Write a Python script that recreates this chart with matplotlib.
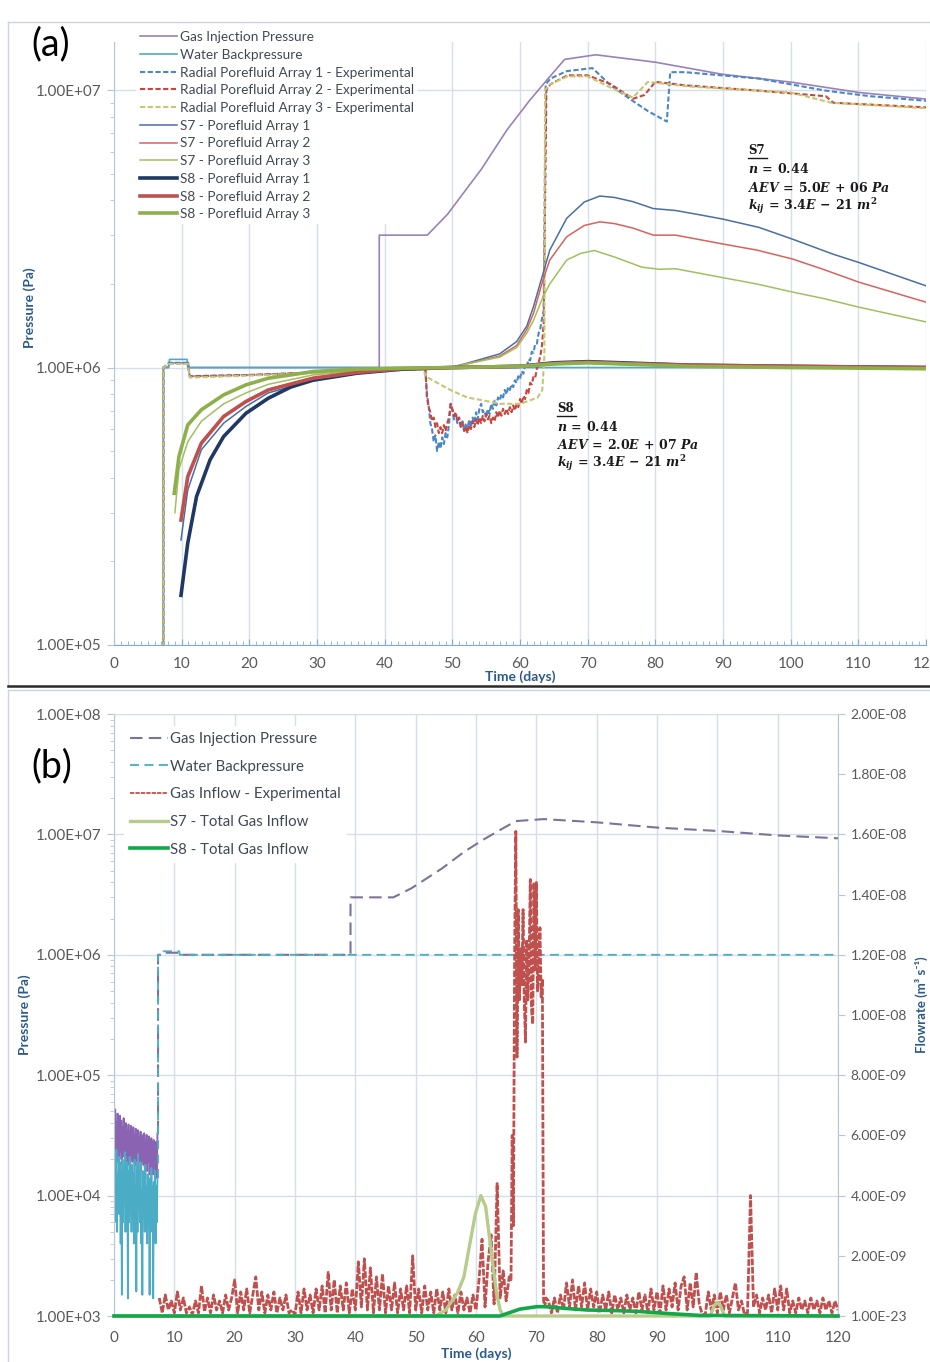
import numpy as np
import matplotlib
matplotlib.use('Agg')
import matplotlib.pyplot as plt
from matplotlib.lines import Line2D
from matplotlib.ticker import LogLocator, NullFormatter, MultipleLocator, FixedLocator

plt.rcParams['font.family'] = ['Lato', 'DejaVu Sans']
plt.rcParams['mathtext.fontset'] = 'custom'
plt.rcParams['mathtext.rm'] = 'DejaVu Serif:bold'
plt.rcParams['mathtext.it'] = 'DejaVu Serif:italic:bold'
plt.rcParams['mathtext.bf'] = 'DejaVu Serif:bold'
plt.rcParams['axes.unicode_minus'] = False

# ---------------- shared tick data ----------------
day_ticks = [0, 10, 20, 30, 40, 50, 60, 70, 80, 90, 100, 110, 120]
day_labels = ['0', '10', '20', '30', '40', '50', '60', '70', '80', '90', '100', '110', '120']

# ---------------- Panel (a) data ----------------
a_ytick_vals = [1e5, 1e6, 1e7]
a_ytick_labels = ['1.00E+05', '1.00E+06', '1.00E+07']

gip_t = [0, 7.3, 7.3, 8.0, 8.1, 11.0, 11.1, 39.2, 39.2, 46.3, 49.3, 54.3, 58.1, 61.4,
         64.1, 66.6, 71.2, 80.0, 89.9, 100.3, 110.1, 120.0]
gip_p = [5e4, 5e4, 1.0e6, 1.0e6, 1.04e6, 1.04e6, 1.0e6, 1.0e6, 3.0e6, 3.0e6, 3.57e6, 5.19e6,
         7.2e6, 9.16e6, 1.096e7, 1.29e7, 1.34e7, 1.26e7, 1.14e7, 1.066e7, 9.8e6, 9.28e6]

water_t = [0, 7.3, 7.3, 8.1, 8.2, 10.8, 10.9, 120.0]
water_p = [5e4, 5e4, 1.0e6, 1.0e6, 1.07e6, 1.07e6, 1.0e6, 1.0e6]

exp_early_t = [0, 7.3, 7.3, 8.1, 10.9, 11.2, 20, 30, 40, 45.8]
exp1_early_p = [5e4, 5e4, 1.0e6, 1.04e6, 1.04e6, 0.93e6, 0.94e6, 0.96e6, 0.98e6, 0.99e6]
exp2_early_p = [5e4, 5e4, 1.0e6, 1.03e6, 1.03e6, 0.93e6, 0.94e6, 0.96e6, 0.98e6, 0.99e6]
exp3_early_p = [5e4, 5e4, 1.0e6, 1.03e6, 1.03e6, 0.92e6, 0.935e6, 0.955e6, 0.975e6, 0.985e6]

noisy_start, noisy_step = 46.0, 0.25
exp1_noisy_p = [1.00e6, 8.0e5, 7.3e5, 6.3e5, 6.0e5, 5.4e5, 5.7e5, 5.0e5, 5.4e5, 5.1e5,
                5.6e5, 5.3e5, 5.8e5, 5.6e5, 6.2e5, 7.4e5, 7.0e5, 6.5e5, 6.8e5, 6.3e5,
                6.6e5, 6.1e5, 6.4e5, 5.9e5, 6.3e5, 6.0e5, 6.5e5, 6.1e5, 6.6e5, 6.3e5,
                6.9e5, 6.5e5, 7.1e5, 7.4e5, 6.9e5, 7.0e5, 6.6e5, 7.1e5, 6.8e5, 7.4e5,
                7.1e5, 7.6e5, 7.3e5, 7.8e5, 7.6e5, 8.0e5, 7.8e5, 8.3e5, 8.0e5, 8.5e5,
                8.3e5, 8.7e5, 8.5e5, 9.0e5, 8.8e5, 9.3e5, 9.1e5, 9.7e5, 9.5e5, 1.02e6,
                1.0e6, 1.07e6, 1.06e6, 1.14e6, 1.13e6, 1.22e6, 1.22e6, 1.33e6, 1.38e6, 1.5e6]
exp2_noisy_p = [1.0e6, 7.8e5, 7.2e5, 6.9e5, 6.4e5, 6.6e5, 6.1e5, 6.3e5, 5.8e5, 6.1e5,
                5.8e5, 6.2e5, 5.9e5, 6.3e5, 6.6e5, 7.4e5, 7.1e5, 6.7e5, 6.9e5, 6.4e5,
                6.6e5, 6.1e5, 6.3e5, 5.9e5, 6.1e5, 5.8e5, 6.2e5, 6.0e5, 6.4e5, 6.1e5,
                6.5e5, 6.2e5, 6.6e5, 6.3e5, 6.7e5, 6.4e5, 6.8e5, 6.5e5, 6.7e5, 6.3e5,
                6.6e5, 6.4e5, 6.9e5, 6.6e5, 7.0e5, 6.7e5, 7.1e5, 6.8e5, 7.1e5, 6.8e5,
                7.2e5, 6.9e5, 7.3e5, 7.0e5, 7.4e5, 7.2e5, 7.7e5, 7.4e5, 7.9e5, 7.7e5,
                8.3e5, 8.1e5, 8.8e5, 8.7e5, 9.3e5, 9.2e5, 9.9e5, 1.04e6, 1.1e6, 1.2e6]

exp1_late_t = [63.5, 63.8, 64.5, 66.9, 70.7, 73.4, 76.2, 78.9, 81.7, 82.2, 84.4, 95.3, 105.2, 111.8, 120]
exp1_late_p = [1.6e6, 1.05e7, 1.1e7, 1.17e7, 1.2e7, 1.04e7, 9.3e6, 8.4e6, 7.7e6, 1.16e7, 1.16e7,
               1.1e7, 9.95e6, 9.5e6, 9.15e6]
exp2_late_t = [63.5, 63.9, 64.5, 67.0, 70.0, 73.4, 76.7, 78.4, 80.0, 84.4, 95.3, 105.2, 106.3, 120]
exp2_late_p = [1.45e6, 1.0e7, 1.05e7, 1.13e7, 1.13e7, 1.05e7, 9.3e6, 9.6e6, 1.07e7, 1.04e7,
               9.95e6, 9.5e6, 9.0e6, 8.66e6]
exp3_late_t = [46.0, 49.7, 52.2, 54.7, 57.1, 60.1, 62.6, 63.3, 63.6, 63.7, 64.5, 67.0, 70.0,
               73.4, 76.7, 78.9, 85.0, 100.0, 106.0, 120]
exp3_late_p = [9.3e5, 8.3e5, 7.8e5, 7.6e5, 7.4e5, 7.4e5, 7.8e5, 8.3e5, 1.1e6, 1.0e7, 1.05e7,
               1.12e7, 1.12e7, 1.02e7, 9.4e6, 1.07e7, 1.03e7, 9.8e6, 9.0e6, 8.6e6]

s7_1_t = [9.9, 10.9, 12.9, 16.2, 19.5, 22.8, 29.4, 35.9, 42.5, 46, 49.7, 52.1, 57, 59.5, 61,
          62, 63.4, 64.4, 66.9, 69.5, 71.8, 74, 76.7, 79.7, 83, 86.6, 89.9, 95.3, 100.3,
          106.3, 110.1, 120]
s7_1_p = [2.39e5, 3.62e5, 5.05e5, 6.3e5, 7.24e5, 8.1e5, 9.0e5, 9.5e5, 9.85e5, 1.0e6, 1.0e6,
          1.035e6, 1.12e6, 1.24e6, 1.41e6, 1.66e6, 2.18e6, 2.65e6, 3.45e6, 3.95e6, 4.15e6,
          4.1e6, 3.96e6, 3.74e6, 3.68e6, 3.55e6, 3.43e6, 3.2e6, 2.9e6, 2.56e6, 2.39e6, 1.97e6]
s7_2_t = [9.9, 10.9, 12.9, 16.2, 19.5, 22.8, 29.4, 35.9, 42.5, 46, 49.7, 52.1, 57, 59.5, 61,
          62, 63.4, 64.4, 66.9, 69.5, 71.8, 74, 76.7, 79.7, 83, 89.9, 95, 100.3, 105, 110.1, 120]
s7_2_p = [2.9e5, 4.1e5, 5.4e5, 6.7e5, 7.6e5, 8.35e5, 9.2e5, 9.6e5, 9.9e5, 1.0e6, 1.0e6,
          1.03e6, 1.1e6, 1.2e6, 1.37e6, 1.57e6, 2.07e6, 2.44e6, 2.96e6, 3.25e6, 3.35e6, 3.3e6,
          3.18e6, 3.0e6, 3.0e6, 2.79e6, 2.65e6, 2.46e6, 2.25e6, 2.03e6, 1.72e6]
s7_3_t = [9.0, 9.6, 10.9, 12.9, 16.2, 19.5, 22.8, 29.4, 35.9, 42.5, 46, 50, 52.1, 57, 59.5,
          61, 62, 63.4, 64.4, 66.9, 69, 71, 74, 78, 80.6, 83, 89.9, 95, 100.3, 105, 110.1, 120]
s7_3_p = [3.0e5, 4.3e5, 5.4e5, 6.4e5, 7.4e5, 8.1e5, 8.7e5, 9.4e5, 9.7e5, 9.9e5, 1.0e6, 1.0e6,
          1.03e6, 1.09e6, 1.18e6, 1.33e6, 1.48e6, 1.8e6, 2.0e6, 2.44e6, 2.58e6, 2.64e6, 2.5e6,
          2.3e6, 2.26e6, 2.27e6, 2.11e6, 2.0e6, 1.87e6, 1.77e6, 1.65e6, 1.46e6]

s8_1_t = [9.9, 10.9, 12.2, 14.2, 16.2, 19.5, 22.8, 26.1, 29.4, 35.9, 42.5, 50, 60, 65, 70, 75,
          85, 100, 120]
s8_1_p = [1.51e5, 2.33e5, 3.43e5, 4.65e5, 5.64e5, 6.84e5, 7.75e5, 8.5e5, 9.0e5, 9.54e5,
          9.86e5, 1.0e6, 1.01e6, 1.04e6, 1.05e6, 1.04e6, 1.02e6, 1.01e6, 1.0e6]
s8_2_t = [9.9, 10.9, 12.9, 16.2, 19.5, 22.8, 29.4, 35.9, 42.5, 50, 60, 65, 70, 75, 85, 100, 120]
s8_2_p = [2.82e5, 4.04e5, 5.33e5, 6.66e5, 7.54e5, 8.3e5, 9.15e5, 9.6e5, 9.9e5, 1.0e6, 1.01e6,
          1.035e6, 1.045e6, 1.035e6, 1.02e6, 1.01e6, 1.0e6]
s8_3_t = [8.9, 9.6, 10.9, 12.9, 16.2, 19.5, 22.8, 29.4, 35.9, 42.5, 50, 60, 65, 70, 75, 85, 100, 120]
s8_3_p = [3.52e5, 4.78e5, 6.21e5, 7.04e5, 7.97e5, 8.66e5, 9.15e5, 9.67e5, 9.86e5, 9.95e5,
          1.0e6, 1.01e6, 1.03e6, 1.04e6, 1.03e6, 1.01e6, 1.0e6, 0.99e6]

# ---------------- Panel (b) data ----------------
b_ytick_vals = [1e3, 1e4, 1e5, 1e6, 1e7, 1e8]
b_ytick_labels = ['1.00E+03', '1.00E+04', '1.00E+05', '1.00E+06', '1.00E+07', '1.00E+08']
flow_tick_vals = [0.0, 2e-9, 4e-9, 6e-9, 8e-9, 1e-8, 1.2e-8, 1.4e-8, 1.6e-8, 1.8e-8, 2e-8]
flow_tick_labels = ['1.00E-23', '2.00E-09', '4.00E-09', '6.00E-09', '8.00E-09', '1.00E-08',
                    '1.20E-08', '1.40E-08', '1.60E-08', '1.80E-08', '2.00E-08']

early_step = 0.1   # days between early logger samples (day 0 to 7.2)
gip_noise_1e4 = [4.5, 2.2, 5.2, 2.6, 4.1, 1.9, 4.8, 2.4, 3.9, 2.0,
                 4.6, 2.3, 4.2, 1.8, 3.7, 2.5, 4.4, 2.1, 3.6, 1.9,
                 4.0, 2.2, 3.5, 1.8, 3.9, 2.4, 3.4, 1.7, 3.8, 2.0,
                 3.3, 1.9, 3.7, 2.2, 3.2, 1.8, 3.6, 2.0, 3.1, 1.7,
                 3.5, 2.1, 3.0, 1.9, 3.4, 1.6, 3.2, 2.0, 3.0, 1.8,
                 3.3, 1.7, 2.9, 2.0, 3.2, 1.6, 2.8, 1.9, 3.1, 1.5,
                 2.7, 1.8, 3.0, 1.6, 2.8, 1.5, 2.9, 1.7, 2.6, 1.5,
                 2.8, 1.4, 3.3]
water_noise_1e3 = [22, 6, 18, 9, 24, 5, 15, 8, 21, 7,
                   19, 4, 16, 1.5, 20, 6, 17, 9, 23, 5,
                   14, 7, 19, 1.4, 16, 6, 21, 8, 13, 5,
                   18, 7, 15, 4, 20, 6, 12, 1.6, 17, 5,
                   22, 8, 14, 6, 19, 4, 11, 1.5, 16, 7,
                   13, 5, 18, 6, 12, 4, 15, 7, 10, 1.5,
                   14, 5, 17, 6, 12, 1.4, 13, 5, 16, 4,
                   12, 6, 14]

# gas inflow (experimental), units 1e-9 m3/s
flow_seg1_start, flow_seg1_step = 7.5, 0.5
flow_seg1 = [0.6, 0.1, 0.7, 0.2, 0.5, 0.1, 0.8, 0.2, 0.6, 0.1,
             0.3, 0.05, 0.5, 0.1, 1.0, 0.15, 0.6, 0.1, 0.7, 0.2,
             0.5, 0.1, 0.7, 0.2, 0.6, 1.2, 0.1, 0.8, 0.2, 0.9,
             0.1, 0.7, 1.3, 0.2, 0.8, 0.1, 0.7, 0.2, 0.8, 0.1,
             0.6, 0.2, 0.7, 0.1, 0.2, 0.05, 0.8, 0.1, 0.9, 0.2,
             0.7, 0.1, 0.9, 0.2, 1.0, 0.1, 1.45, 0.2, 1.2, 0.1,
             1.0, 0.2, 1.1, 0.1, 0.9, 0.2, 1.8, 0.3, 1.9, 0.2,
             1.6, 0.1, 1.3, 0.2, 1.4, 0.1, 1.0, 0.2, 1.1, 0.1,
             0.9, 0.2, 1.0, 0.1, 2.0, 0.2, 0.9, 0.1, 1.0, 0.2,
             0.8, 0.1, 0.9, 0.2, 0.8, 0.1, 0.9, 0.2, 0.7, 0.1,
             0.8, 0.2, 0.6, 0.1, 0.7, 0.2, 1.2, 2.55, 0.3, 1.8,
             2.7, 0.4, 4.4, 0.6, 1.5, 0.5, 1.3]
flow_seg2_start, flow_seg2_step = 65.8, 0.2
flow_seg2 = [1.2, 6.0, 3.0, 12.0, 16.1, 8.6, 13.5, 10.5, 12.2, 11.0,
             13.5, 10.5, 9.1, 12.5, 10.5, 11.8, 14.5, 10.2, 9.7, 14.4,
             11.5, 14.4, 10.8, 11.6, 12.9, 10.6, 11.2, 0.5, 0.3, 0.6]
flow_seg3_start, flow_seg3_step = 72.0, 0.5
flow_seg3 = [0.5, 0.1, 0.6, 0.1, 0.7, 0.2, 1.1, 0.3, 1.2, 0.2,
             1.0, 0.3, 1.1, 0.2, 0.9, 0.3, 0.8, 0.1, 0.7, 0.2,
             0.8, 0.1, 0.7, 0.2, 0.6, 0.1, 0.7, 0.2, 0.6, 0.1,
             0.8, 0.2, 0.7, 0.1, 0.9, 0.2, 0.8, 0.1, 1.0, 0.2,
             0.9, 0.3, 1.1, 0.2, 1.0, 1.3, 0.2, 1.1, 0.3, 1.45,
             0.4, 0.05, 0.05, 0.8, 0.2, 0.7, 0.1, 0.8, 0.2, 0.7,
             0.1, 0.6, 1.1, 0.2, 0.5, 0.05, 0.1, 4.0, 0.3, 0.7,
             0.1, 0.6, 0.2, 0.7, 0.1, 0.9, 0.2, 1.0, 0.2, 0.9,
             0.1, 0.5, 0.1, 0.6, 0.2, 0.5, 0.1, 0.6, 0.2, 0.5,
             0.1, 0.6, 0.2, 0.5, 0.1, 0.5, 0.2]

s7_flow_t = [0, 53.3, 55.0, 56.9, 58.0, 58.7, 59.9, 60.8, 61.6, 62.5, 63.4, 64.0, 64.5,
             98.8, 99.5, 100.0, 100.5, 101.2, 120]
s7_flow_v = [0, 0, 0.2, 0.76, 1.3, 2.09, 3.4, 4.0, 3.63, 2.19, 0.76, 0.2, 0, 0, 0.35, 0.45,
             0.35, 0, 0]
s8_flow_t = [0, 64.0, 65.1, 67.3, 70.1, 71.5, 75.0, 78.4, 83.0, 87.2, 92.0, 97.0, 120]
s8_flow_v = [0, 0, 0.08, 0.23, 0.31, 0.31, 0.25, 0.2, 0.18, 0.15, 0.08, 0.02, 0.0]

# ---------------- figure ----------------
W, H = 930, 1362
fig = plt.figure(figsize=(W / 100, H / 100), dpi=100)
fig.patch.set_facecolor('white')


def fx(px):
    return px / W


def fy(py):
    return 1 - py / H


GRID = '#d5dfea'
AXC = '#b9c6d3'
TICKC = '#595959'
LABC = '#2c5a8c'
TFS = 11          # tick label size
LFS = 10          # axis label size

# ---------- panel (a) ----------
axA = fig.add_axes([fx(114), fy(645), (926 - 114) / W, (645 - 42) / H])
axA.set_yscale('log')
axA.set_xlim(0, 120)
axA.set_ylim(1e5, 1.49e7)

c_gip = '#9a82b9'
c_wat = '#4bacc6'
hA = []
hA += axA.plot(gip_t, gip_p, color=c_gip, lw=1.2, label='Gas Injection Pressure')
hA += axA.plot(water_t, water_p, color=c_wat, lw=1.2, label='Water Backpressure')

noisy_t = noisy_start + noisy_step * np.arange(len(exp1_noisy_p))
e1_t = np.concatenate([exp_early_t, noisy_t, exp1_late_t])
e1_p = np.concatenate([exp1_early_p, exp1_noisy_p, exp1_late_p])
e2_t = np.concatenate([exp_early_t, noisy_t, exp2_late_t])
e2_p = np.concatenate([exp2_early_p, exp2_noisy_p, exp2_late_p])
e3_t = np.concatenate([exp_early_t, exp3_late_t])
e3_p = np.concatenate([exp3_early_p, exp3_late_p])
hA += axA.plot(e1_t, e1_p, color='#4a86c8', lw=1.5, dashes=(2.5, 1.2),
               label='Radial Porefluid Array 1 - Experimental')
hA += axA.plot(e2_t, e2_p, color='#c9463f', lw=1.5, dashes=(2.5, 1.2),
               label='Radial Porefluid Array 2 - Experimental')
hA += axA.plot(e3_t, e3_p, color='#c6c772', lw=1.5, dashes=(2.5, 1.2),
               label='Radial Porefluid Array 3 - Experimental')
hA += axA.plot(s7_1_t, s7_1_p, color='#4b6ea3', lw=1.1, label='S7 - Porefluid Array 1')
hA += axA.plot(s7_2_t, s7_2_p, color='#d9625c', lw=1.1, label='S7 - Porefluid Array 2')
hA += axA.plot(s7_3_t, s7_3_p, color='#a0c060', lw=1.1, label='S7 - Porefluid Array 3')
hA += axA.plot(s8_1_t, s8_1_p, color='#1f3864', lw=2.6, label='S8 - Porefluid Array 1')
hA += axA.plot(s8_2_t, s8_2_p, color='#c0504d', lw=2.6, label='S8 - Porefluid Array 2')
hA += axA.plot(s8_3_t, s8_3_p, color='#8db04a', lw=2.6, label='S8 - Porefluid Array 3')

axA.yaxis.set_major_locator(FixedLocator(a_ytick_vals))
axA.set_yticklabels(a_ytick_labels)
axA.yaxis.set_minor_locator(LogLocator(base=10, subs=np.arange(2, 10)))
axA.yaxis.set_minor_formatter(NullFormatter())
axA.set_xticks(day_ticks)
axA.set_xticklabels(day_labels)
axA.xaxis.set_minor_locator(MultipleLocator(1))
axA.grid(True, axis='x', which='major', color=GRID, lw=1.0)
axA.grid(True, axis='y', which='major', color=GRID, lw=1.0)
axA.set_axisbelow(True)
for s in ['top', 'right']:
    axA.spines[s].set_visible(False)
axA.spines['left'].set_color(AXC)
axA.spines['bottom'].set_color('#86a9d2')
axA.tick_params(axis='y', which='major', direction='out', length=5, color=AXC,
                labelsize=TFS, labelcolor=TICKC, pad=4)
axA.tick_params(axis='y', which='minor', direction='out', length=3, color=AXC)
axA.tick_params(axis='x', which='major', direction='in', length=4, color='#86a9d2',
                labelsize=TFS, labelcolor=TICKC, pad=9)
axA.tick_params(axis='x', which='minor', direction='in', length=3, color='#86a9d2')

legA = axA.legend(handles=hA, loc='upper left', bbox_to_anchor=(fx(136), fy(27)),
                  bbox_transform=fig.transFigure, fontsize=9.8, frameon=True,
                  facecolor='white', edgecolor='none', framealpha=1, handlelength=2.7,
                  handletextpad=0.25, labelspacing=0.42, borderpad=0.3, borderaxespad=0)
for t in legA.get_texts():
    t.set_color('#404a55')

fig.text(fx(30), fy(308), 'Pressure (Pa)', rotation=90, ha='center', va='center',
         fontsize=LFS, fontweight='bold', color=LABC)
fig.text(fx(520), fy(677), 'Time (days)', ha='center', va='center',
         fontsize=LFS, fontweight='bold', color=LABC)
fig.text(fx(31), fy(44), '(a)', ha='left', va='center', fontsize=27, color='black')

# annotations
txtc = '#1a1a1a'
fig.text(fx(748), fy(150), 'S7', fontfamily='DejaVu Serif', fontweight='bold',
         fontsize=8.5, color=txtc, va='center', ha='left')
fig.add_artist(Line2D([fx(748), fx(767)], [fy(158), fy(158)], color=txtc, lw=1.0))
fig.text(fx(748), fy(168), r'$n\,=\,0.44$', fontsize=9, color=txtc, va='center')
fig.text(fx(748), fy(187), r'$AEV\,=\,5.0E\,+\,06\ Pa$', fontsize=9, color=txtc, va='center')
fig.text(fx(748), fy(206), r'$k_{ij}\,=\,3.4E\,-\,21\ m^{2}$', fontsize=9, color=txtc, va='center')

fig.text(fx(557), fy(408), 'S8', fontfamily='DejaVu Serif', fontweight='bold',
         fontsize=8.5, color=txtc, va='center', ha='left')
fig.add_artist(Line2D([fx(557), fx(576)], [fy(416), fy(416)], color=txtc, lw=1.0))
fig.text(fx(557), fy(426), r'$n\,=\,0.44$', fontsize=9, color=txtc, va='center')
fig.text(fx(557), fy(444), r'$AEV\,=\,2.0E\,+\,07\ Pa$', fontsize=9, color=txtc, va='center')
fig.text(fx(557), fy(463), r'$k_{ij}\,=\,3.4E\,-\,21\ m^{2}$', fontsize=9, color=txtc, va='center')

# ---------- panel (b) ----------
axB = fig.add_axes([fx(114), fy(1316), (838 - 114) / W, (1316 - 714) / H])
axB.set_yscale('log')
axB.set_xlim(0, 120)
axB.set_ylim(1e3, 1e8)

early_t = early_step * np.arange(len(gip_noise_1e4))
gip_noise = np.array(gip_noise_1e4) * 1e4
water_noise = np.array(water_noise_1e3) * 1e3

c_gipb = '#7d7396'
axB.plot(early_t, gip_noise, color='#8a63b3', lw=1.3)
hB = []
hB += axB.plot([7.3] + gip_t[2:], [gip_noise[-1]] + gip_p[2:], color=c_gipb, lw=1.5,
               dashes=(6, 3), label='Gas Injection Pressure')
axB.plot(early_t, water_noise, color='#4bacc6', lw=1.3)
hB += axB.plot([7.3] + water_t[2:], [water_noise[-1]] + water_p[2:], color='#4bacc6', lw=1.3,
               dashes=(5, 3), label='Water Backpressure')

axB.yaxis.set_major_locator(FixedLocator(b_ytick_vals))
axB.set_yticklabels(b_ytick_labels)
axB.yaxis.set_minor_locator(LogLocator(base=10, subs=np.arange(2, 10)))
axB.yaxis.set_minor_formatter(NullFormatter())
axB.set_xticks(day_ticks)
axB.set_xticklabels(day_labels)
axB.grid(True, axis='both', which='major', color=GRID, lw=1.0)
axB.set_axisbelow(True)
axB.spines['left'].set_color(AXC)
axB.spines['right'].set_color(AXC)
axB.spines['top'].set_color(GRID)
axB.spines['bottom'].set_color(GRID)
axB.tick_params(axis='y', which='major', direction='out', length=5, color=AXC,
                labelsize=TFS, labelcolor=TICKC, pad=4)
axB.tick_params(axis='y', which='minor', direction='out', length=3, color=AXC)
axB.tick_params(axis='x', which='major', length=0, labelsize=TFS, labelcolor=TICKC, pad=11)

axB2 = axB.twinx()
axB2.set_ylim(0, 2e-8)
f1_t = flow_seg1_start + flow_seg1_step * np.arange(len(flow_seg1))
f2_t = flow_seg2_start + flow_seg2_step * np.arange(len(flow_seg2))
f3_t = flow_seg3_start + flow_seg3_step * np.arange(len(flow_seg3))
flow_t = np.concatenate([f1_t, f2_t, f3_t])
flow_v = np.concatenate([flow_seg1, flow_seg2, flow_seg3]) * 1e-9
hB += axB2.plot(flow_t, flow_v, color='#c0504d', lw=2.0, dashes=(2.4, 0.6),
                label='Gas Inflow - Experimental')
hB += axB2.plot(s7_flow_t, np.array(s7_flow_v) * 1e-9, color='#b5cc8a', lw=2.4,
                label='S7 - Total Gas Inflow', clip_on=False)
hB += axB2.plot(s8_flow_t, np.array(s8_flow_v) * 1e-9, color='#12a84a', lw=2.6,
                label='S8 - Total Gas Inflow', clip_on=False)
axB2.set_yticks(flow_tick_vals)
axB2.set_yticklabels(flow_tick_labels)
axB2.tick_params(axis='y', direction='out', length=5, color=AXC, labelsize=10,
                 labelcolor=TICKC, pad=4)
for s in axB2.spines.values():
    s.set_visible(False)

legB = axB2.legend(handles=hB, loc='upper left', bbox_to_anchor=(fx(124), fy(726)),
                   bbox_transform=fig.transFigure, fontsize=10.8, frameon=True,
                   facecolor='white', edgecolor='none', framealpha=1, handlelength=2.55,
                   handletextpad=0.15, labelspacing=0.91, borderpad=0.4, borderaxespad=0)
for t in legB.get_texts():
    t.set_color('#404a55')
legB.get_lines()[2].set_linewidth(1.3)

fig.text(fx(25), fy(1015), 'Pressure (Pa)', rotation=90, ha='center', va='center',
         fontsize=LFS, fontweight='bold', color=LABC)
fig.text(fx(921), fy(1005), 'Flowrate (m³ s⁻¹)', rotation=90, ha='center', va='center',
         fontsize=9.5, fontweight='bold', color=LABC, family=['Lato', 'DejaVu Sans'])
fig.text(fx(476), fy(1354), 'Time (days)', ha='center', va='center',
         fontsize=LFS, fontweight='bold', color=LABC)
fig.text(fx(31), fy(766), '(b)', ha='left', va='center', fontsize=27, color='black')

# ---------- panel frames ----------
frame_c = '#c9d5e1'
fig.add_artist(Line2D([fx(8), fx(930)], [fy(22), fy(22)], color=frame_c, lw=1.0))
fig.add_artist(Line2D([fx(8), fx(8)], [fy(22), fy(686)], color=frame_c, lw=1.0))
fig.add_artist(Line2D([fx(8), fx(930)], [fy(686), fy(686)], color='#2a2a2a', lw=1.8))
fig.add_artist(Line2D([fx(8), fx(930)], [fy(690), fy(690)], color=frame_c, lw=1.0))
fig.add_artist(Line2D([fx(8), fx(8)], [fy(690), fy(1362)], color=frame_c, lw=1.0))

fig.savefig('out.png', dpi=100, facecolor='white')
